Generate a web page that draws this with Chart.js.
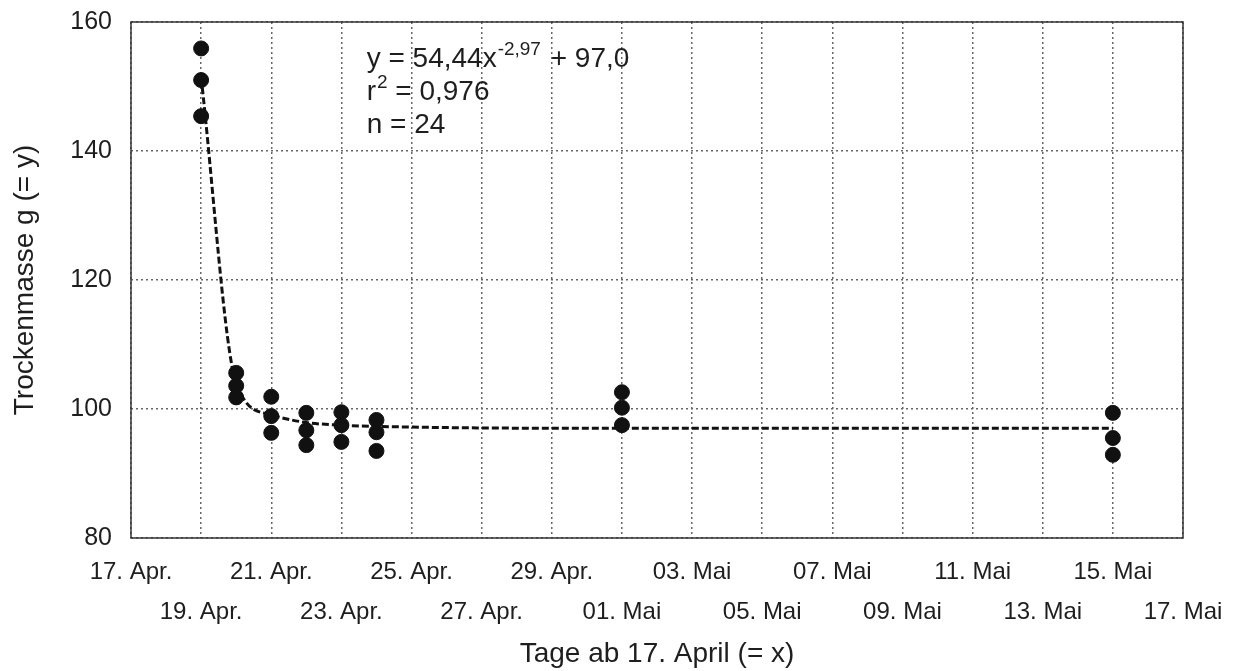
<!DOCTYPE html>
<html>
<head>
<meta charset="utf-8">
<script src="https://cdn.jsdelivr.net/npm/chart.js@4.4.1/dist/chart.umd.min.js"></script>
<style>
  html, body { margin: 0; padding: 0; background: #fff; }
  #wrap { width: 1235px; height: 671px; }
</style>
</head>
<body>
<div id="wrap"><canvas id="chart"></canvas></div>
<script>
// tick labels of the x axis (every 2nd day from 17 April)
const dayLabels = ['17. Apr.', '19. Apr.', '21. Apr.', '23. Apr.', '25. Apr.', '27. Apr.', '29. Apr.',
  '01. Mai', '03. Mai', '05. Mai', '07. Mai', '09. Mai', '11. Mai', '13. Mai', '15. Mai', '17. Mai'];

// measured samples: days after 17 April and dry mass (g)
const sampleDays = [2, 2, 2, 3, 3, 3, 4, 4, 4, 5, 5, 5, 6, 6, 6, 7, 7, 7, 14, 14, 14, 28, 28, 28];
const dryMass = [155.9, 151.0, 145.4, 105.6, 103.6, 101.8, 101.9, 98.9, 96.3, 99.4, 96.7, 94.4,
  99.5, 97.5, 94.9, 98.3, 96.4, 93.5, 102.6, 100.2, 97.5, 99.4, 95.5, 92.9];

// fitted curve
const fitDays = [2, 3, 4, 5, 6, 7, 14, 28];
const fitMass = [151.4, 104.0, 99.1, 97.9, 97.5, 97.3, 97.0, 97.0];

const FONT = "'Liberation Sans', Arial, sans-serif";
const INK = '#1e1e1e';

const framePlugin = {
  id: 'frame',
  afterDatasetsDraw(chart) {
    const { ctx, chartArea: a } = chart;
    ctx.save();
    ctx.strokeStyle = '#333';
    ctx.lineWidth = 1.5;
    ctx.setLineDash([]);
    ctx.strokeRect(a.left, a.top, a.right - a.left, a.bottom - a.top);
    ctx.restore();
  }
};

const equationPlugin = {
  id: 'equation',
  afterDatasetsDraw(chart) {
    const { ctx } = chart;
    const x0 = chart.scales.x.getPixelForValue(6.72);
    const y0 = chart.scales.y.getPixelForValue(153.0);
    const big = '28px ' + FONT;
    const small = '19px ' + FONT;
    const lh = 33;
    ctx.save();
    ctx.fillStyle = INK;
    ctx.textBaseline = 'alphabetic';
    ctx.textAlign = 'left';

    let x = x0;
    ctx.font = big;
    ctx.fillText('y = 54,44x', x, y0);
    x += ctx.measureText('y = 54,44x').width;
    ctx.font = small;
    ctx.fillText('-2,97', x + 1, y0 - 12);
    x += ctx.measureText('-2,97').width + 3;
    ctx.font = big;
    ctx.fillText(' + 97,0', x, y0);

    x = x0;
    ctx.fillText('r', x, y0 + lh);
    x += ctx.measureText('r').width;
    ctx.font = small;
    ctx.fillText('2', x + 1, y0 + lh - 12);
    x += ctx.measureText('2').width + 1;
    ctx.font = big;
    ctx.fillText(' = 0,976', x, y0 + lh);

    ctx.fillText('n = 24', x0, y0 + 2 * lh);
    ctx.restore();
  }
};

new Chart(document.getElementById('chart'), {
  type: 'scatter',
  data: {
    datasets: [
      {
        label: 'Trockenmasse',
        data: sampleDays.map((d, i) => ({ x: d, y: dryMass[i] })),
        backgroundColor: '#111',
        borderColor: '#111',
        pointRadius: 7.5,
        pointHoverRadius: 7.5,
        order: 0
      },
      {
        type: 'line',
        label: 'Anpassung',
        data: fitDays.map((d, i) => ({ x: d, y: fitMass[i] })),
        borderColor: '#111',
        borderWidth: 3,
        borderDash: [7, 3],
        pointRadius: 0,
        fill: false,
        cubicInterpolationMode: 'monotone',
        order: 1
      }
    ]
  },
  options: {
    responsive: true,
    maintainAspectRatio: false,
    animation: false,
    layout: { padding: { top: 22, right: 52, left: 0, bottom: 0 } },
    plugins: {
      legend: { display: false },
      tooltip: { enabled: false }
    },
    scales: {
      x: {
        type: 'linear',
        min: 0,
        max: 30,
        afterFit: s => {
          s.height = 133;
          s.paddingLeft = 0;
          s.paddingRight = 0;
        },
        border: { display: false, dash: [2, 3] },
        grid: { color: '#666', lineWidth: 1.5, drawTicks: false },
        ticks: {
          stepSize: 2,
          autoSkip: false,
          maxRotation: 0,
          padding: 15,
          color: INK,
          font: { family: FONT, size: 24, lineHeight: 1.65 },
          callback: (v, i) => {
            const lbl = dayLabels[i] || '';
            return i % 2 === 0 ? [lbl, ''] : ['', lbl];
          }
        },
        title: {
          display: true,
          text: 'Tage ab 17. April (= x)',
          color: INK,
          font: { family: FONT, size: 28 },
          padding: { top: 0, bottom: 0 }
        }
      },
      y: {
        min: 80,
        max: 160,
        afterFit: s => {
          s.width = 131;
          s.paddingTop = 0;
          s.paddingBottom = 0;
        },
        border: { display: false, dash: [2, 3] },
        grid: { color: '#666', lineWidth: 1.5, drawTicks: false },
        ticks: {
          stepSize: 20,
          padding: 19,
          color: INK,
          font: { family: FONT, size: 25 }
        },
        title: {
          display: true,
          text: 'Trockenmasse g (= y)',
          color: INK,
          font: { family: FONT, size: 28 },
          padding: { top: 8, bottom: 0 }
        }
      }
    }
  },
  plugins: [framePlugin, equationPlugin]
});
</script>
</body>
</html>
